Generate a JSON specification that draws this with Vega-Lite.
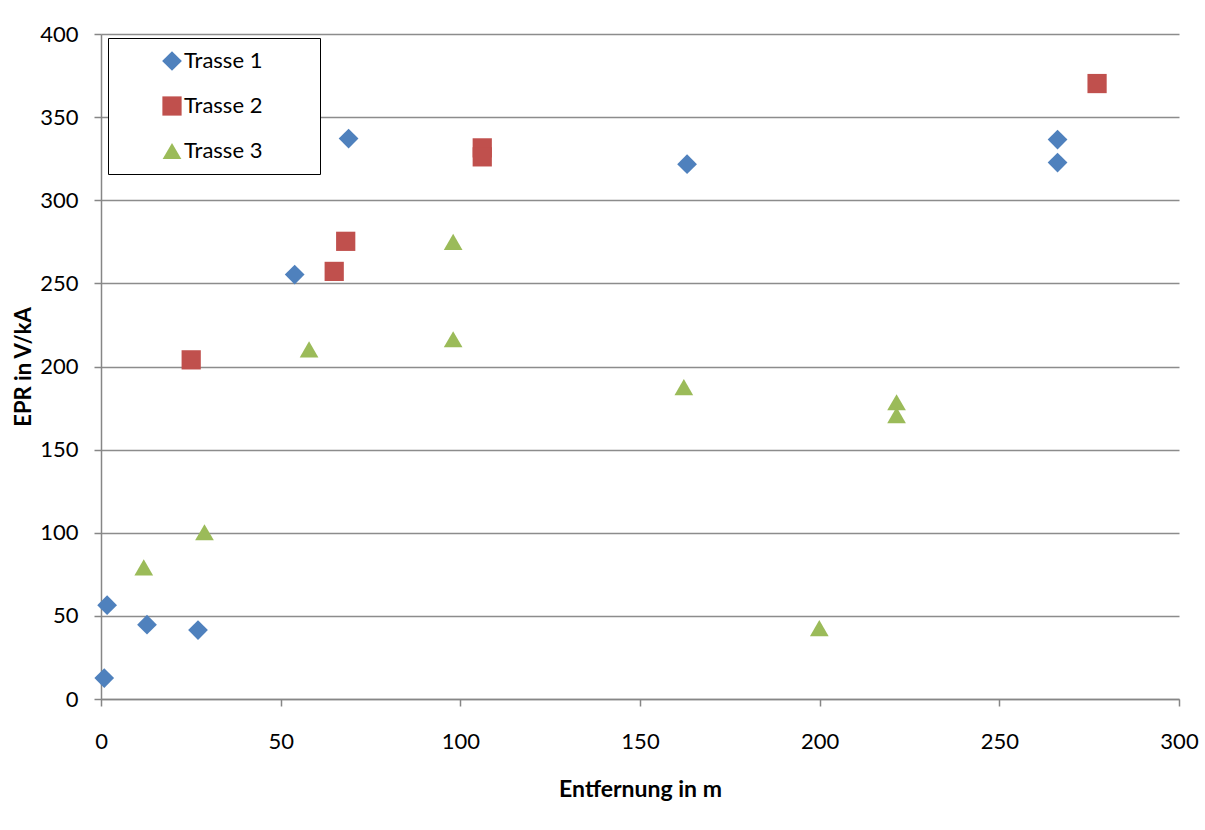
{
  "$schema": "https://vega.github.io/schema/vega-lite/v6.json",
  "width": 1078,
  "height": 665,
  "autosize": {"type": "none"},
  "padding": {"left": 101, "top": 34, "right": 26, "bottom": 131},
  "background": "white",
  "config": {
    "font": "Lato",
    "view": {"stroke": null},
    "axis": {
      "labelFont": "Lato",
      "labelFontSize": 22,
      "labelColor": "#000000",
      "labelFlush": false,
      "titleFont": "Lato",
      "titleFontSize": 22,
      "titleFontWeight": "bold",
      "titleColor": "#000000",
      "domainColor": "#868686",
      "domainWidth": 1.5,
      "tickColor": "#868686",
      "tickWidth": 1.5,
      "tickSize": 7,
      "gridColor": "#8c8c8c",
      "gridWidth": 1.5
    }
  },
  "data": {
    "values": [
      {"serie": "Trasse 1", "x": 0.9, "y": 12.6},
      {"serie": "Trasse 1", "x": 1.7, "y": 56.4},
      {"serie": "Trasse 1", "x": 12.8, "y": 44.7},
      {"serie": "Trasse 1", "x": 27, "y": 41.5},
      {"serie": "Trasse 1", "x": 53.9, "y": 255.3},
      {"serie": "Trasse 1", "x": 68.9, "y": 337.1},
      {"serie": "Trasse 1", "x": 163.1, "y": 321.7},
      {"serie": "Trasse 1", "x": 266.2, "y": 336.5},
      {"serie": "Trasse 1", "x": 266.2, "y": 322.7},
      {"serie": "Trasse 2", "x": 25.1, "y": 204},
      {"serie": "Trasse 2", "x": 64.9, "y": 257.2},
      {"serie": "Trasse 2", "x": 68.1, "y": 275.3},
      {"serie": "Trasse 2", "x": 106.1, "y": 331.5},
      {"serie": "Trasse 2", "x": 106.1, "y": 326.1},
      {"serie": "Trasse 2", "x": 277.2, "y": 370.2},
      {"serie": "Trasse 3", "x": 11.9, "y": 79.2},
      {"serie": "Trasse 3", "x": 28.8, "y": 100.3},
      {"serie": "Trasse 3", "x": 57.9, "y": 210.3},
      {"serie": "Trasse 3", "x": 98, "y": 275},
      {"serie": "Trasse 3", "x": 98, "y": 216.4},
      {"serie": "Trasse 3", "x": 162.2, "y": 187.6},
      {"serie": "Trasse 3", "x": 199.9, "y": 42.6},
      {"serie": "Trasse 3", "x": 221.4, "y": 178.5},
      {"serie": "Trasse 3", "x": 221.4, "y": 170.7}
    ]
  },
  "mark": {"type": "point", "filled": true, "opacity": 1, "strokeWidth": 0},
  "encoding": {
    "x": {
      "field": "x",
      "type": "quantitative",
      "title": "Entfernung in m",
      "scale": {"domain": [0, 300], "nice": false, "zero": false},
      "axis": {
        "values": [0, 50, 100, 150, 200, 250, 300],
        "grid": false,
        "labelPadding": 25,
        "titlePadding": 26,
        "titleFontSize": 23
      }
    },
    "y": {
      "field": "y",
      "type": "quantitative",
      "title": "EPR in V/kA",
      "scale": {"domain": [0, 400], "nice": false},
      "axis": {
        "values": [0, 50, 100, 150, 200, 250, 300, 350, 400],
        "grid": true,
        "labelPadding": 16,
        "titlePadding": 4
      }
    },
    "color": {
      "field": "serie",
      "type": "nominal",
      "scale": {
        "domain": ["Trasse 1", "Trasse 2", "Trasse 3"],
        "range": ["#4F81BD", "#C0504D", "#9BBB59"]
      },
      "legend": {
        "title": null,
        "orient": "none",
        "legendX": 7,
        "legendY": 4,
        "direction": "vertical",
        "fillColor": "white",
        "strokeColor": "#000000",
        "padding": 12,
        "symbolSize": 285,
        "symbolOffset": 41,
        "labelOffset": 1,
        "rowPadding": 23,
        "labelFont": "Lato",
        "labelFontSize": 22,
        "labelColor": "#000000",
        "labelLimit": 300,
        "symbolStrokeWidth": 0,
        "labelExpr": "datum.label + '        \u200b'"
      }
    },
    "shape": {
      "field": "serie",
      "type": "nominal",
      "scale": {
        "domain": ["Trasse 1", "Trasse 2", "Trasse 3"],
        "range": ["diamond", "square", "triangle-up"]
      }
    },
    "size": {
      "field": "serie",
      "type": "nominal",
      "scale": {
        "domain": ["Trasse 1", "Trasse 2", "Trasse 3"],
        "range": [390, 350, 410]
      },
      "legend": null
    }
  }
}
